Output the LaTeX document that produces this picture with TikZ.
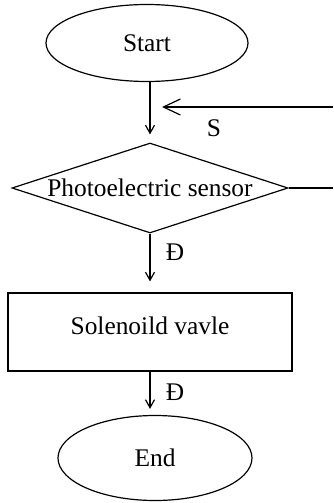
\documentclass[tikz,border=0pt]{standalone}
\usepackage{fontspec}
\setmainfont{Liberation Serif}
\usetikzlibrary{shapes.geometric,arrows.meta}

\begin{document}
\begin{tikzpicture}[x=0.5pt, y=-0.5pt, line width=0.6pt,
    font=\fontsize{12.7}{15}\selectfont,
    terminal/.style={draw, ellipse, inner sep=0pt},
    decision/.style={draw, diamond, aspect=3.07, inner sep=0pt,
      minimum width=138pt, minimum height=45pt},
    process/.style={draw, rectangle, minimum width=142pt, minimum height=39pt},
    flow/.style={-{Straight Barb[length=4pt, width=4.5pt]}},
    back/.style={-{Straight Barb[length=8.5pt, width=8pt]}}]
  \useasboundingbox (0,0) rectangle (333,503);
  \node[terminal, minimum width=101pt, minimum height=38.5pt] (start) at (147,43) {Start};
  \node[decision] (sensor) at (150,188) {Photoelectric sensor};
  \node[process, text depth=6pt] (valve) at (150,332) {Solenoild vavle};
  \node[terminal, minimum width=97pt, minimum height=42.5pt] (stop) at (155,458) {End};
  \coordinate (r1) at (333,107);
  \coordinate (r2) at (333,188);
  \coordinate (m) at (162,107);
  \node (s) at (214,128) {S};
  \node (d1) at (175,252) {Đ};
  \node (d2) at (175,392) {Đ};
  \draw[flow, shorten >=4pt] (start.south -| sensor.north) -- (sensor.north);
  \draw[flow, shorten >=5.5pt] (sensor.south) -- (valve.north);
  \draw[flow, shorten >=3pt] (valve.south) -- (valve.south |- stop.north);
  \draw (sensor.east) -- (r2);
  \draw[back] (r1) -- (m);
\end{tikzpicture}
\end{document}
